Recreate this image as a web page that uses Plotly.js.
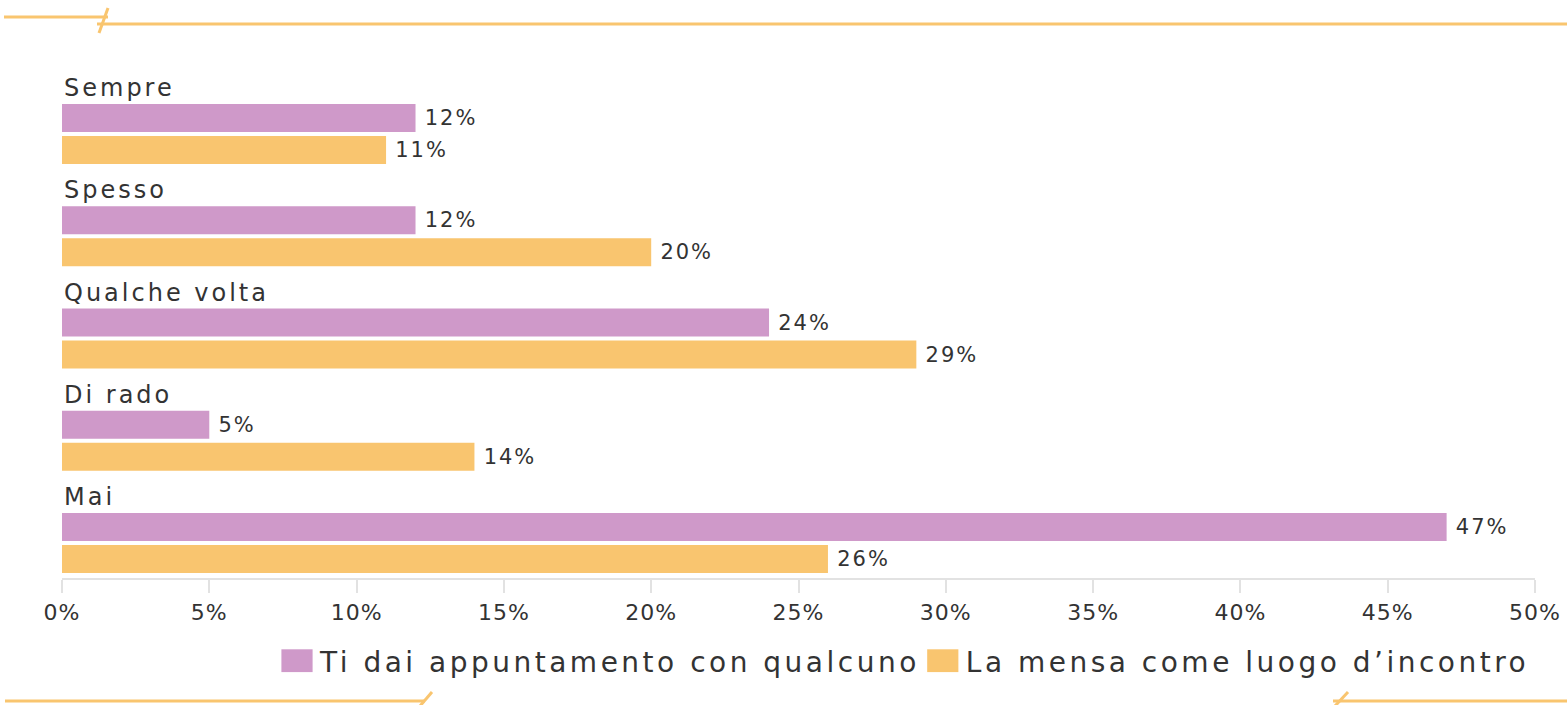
<!DOCTYPE html>
<html><head><meta charset="utf-8">
<script src="https://cdn.plot.ly/plotly-3.0.1.min.js"></script>
<style>
html,body{margin:0;padding:0;background:#fff;}
#chart{width:1567px;height:705px;}
.legendtext{letter-spacing:3.5px;}
.annotation-text{letter-spacing:3px;}
.bartext{letter-spacing:2px;}
.xtick text{letter-spacing:1px;}
.legend .legendpoints path{transform:translate(17px,0px) scale(2.6,1.9) !important;}
</style></head><body><div id="chart"></div>
<script>
const categories = ['Sempre', 'Spesso', 'Qualche volta', 'Di rado', 'Mai'];
const appuntamento = [12, 12, 24, 5, 47];
const mensa = [11, 20, 29, 14, 26];
const seriesNames = ['Ti dai appuntamento con qualcuno', 'La mensa come luogo d\u2019incontro'];
const tickValues = [0, 5, 10, 15, 20, 25, 30, 35, 40, 45, 50];
const tickLabels = ['0%', '5%', '10%', '15%', '20%', '25%', '30%', '35%', '40%', '45%', '50%'];

const purple = '#CF99C9';
const orange = '#F9C56F';
const textColor = '#333333';
const font = 'DejaVu Sans, sans-serif';

function barTrace(values, name, color, offset) {
  return {
    type: 'bar', orientation: 'h', name: name,
    x: values, y: categories,
    offset: offset, width: 0.274,
    marker: {color: color, line: {width: 0}},
    text: values.map(v => '\u2009' + v + '%'),
    texttemplate: '%{text}', textposition: 'outside',
    textfont: {family: font, size: 21, color: textColor},
    constraintext: 'none', cliponaxis: false, hoverinfo: 'skip'
  };
}

const data = [
  barTrace(appuntamento, seriesNames[0], purple, -0.2934),
  barTrace(mensa, seriesNames[1], orange, 0.0196)
];

const annotations = categories.map(c => ({
  x: 0, xref: 'paper', y: c, yref: 'y', xanchor: 'left', yanchor: 'middle',
  yshift: 46, text: c, showarrow: false,
  font: {family: font, size: 24, color: textColor}
}));

const lineStyle = {color: orange, width: 3};
function seg(x0, y0, x1, y1) {
  return {type: 'line', xref: 'paper', yref: 'paper', x0: x0, y0: y0, x1: x1, y1: y1, line: lineStyle, layer: 'above'};
}
// paper coords: x=(px-62)/1473, y=(578-py)/508
const px = p => (p - 62) / 1473;
const py = p => (578 - p) / 508;
const shapes = [
  seg(px(4), py(17), px(108), py(17)),
  seg(px(108), py(8), px(99), py(33)),
  seg(px(97), py(24), px(1570), py(24)),
  seg(px(5), py(701), px(425), py(701)),
  seg(px(432), py(692), px(420), py(706)),
  seg(px(1333), py(701), px(1570), py(701)),
  seg(px(1348), py(692), px(1335), py(706))
];

const layout = {
  width: 1567, height: 705,
  margin: {l: 62, r: 32, t: 70, b: 127},
  paper_bgcolor: '#ffffff', plot_bgcolor: '#ffffff',
  font: {family: font, color: textColor},
  barmode: 'overlay',
  showlegend: true,
  legend: {
    orientation: 'h', x: 1.0, xanchor: 'right', y: py(661), yanchor: 'middle',
    font: {family: font, size: 28, color: textColor},
    bgcolor: 'rgba(0,0,0,0)', itemwidth: 30, traceorder: 'normal'
  },
  xaxis: {
    range: [0, 50], tickmode: 'array', tickvals: tickValues, ticktext: tickLabels,
    showgrid: false, zeroline: false,
    showline: true, linecolor: '#e2e2e2', linewidth: 2,
    ticks: 'outside', ticklen: 13, tickwidth: 2, tickcolor: '#e2e2e2',
    ticklabelstandoff: 1,
    tickfont: {family: font, size: 22, color: textColor},
    fixedrange: true
  },
  yaxis: {
    type: 'category', categoryorder: 'array', categoryarray: categories,
    range: [4.342, -0.626],
    showticklabels: false, showgrid: false, zeroline: false, showline: false, ticks: '',
    fixedrange: true
  },
  annotations: annotations,
  shapes: shapes
};

Plotly.newPlot('chart', data, layout, {displayModeBar: false, staticPlot: true});
</script></body></html>
